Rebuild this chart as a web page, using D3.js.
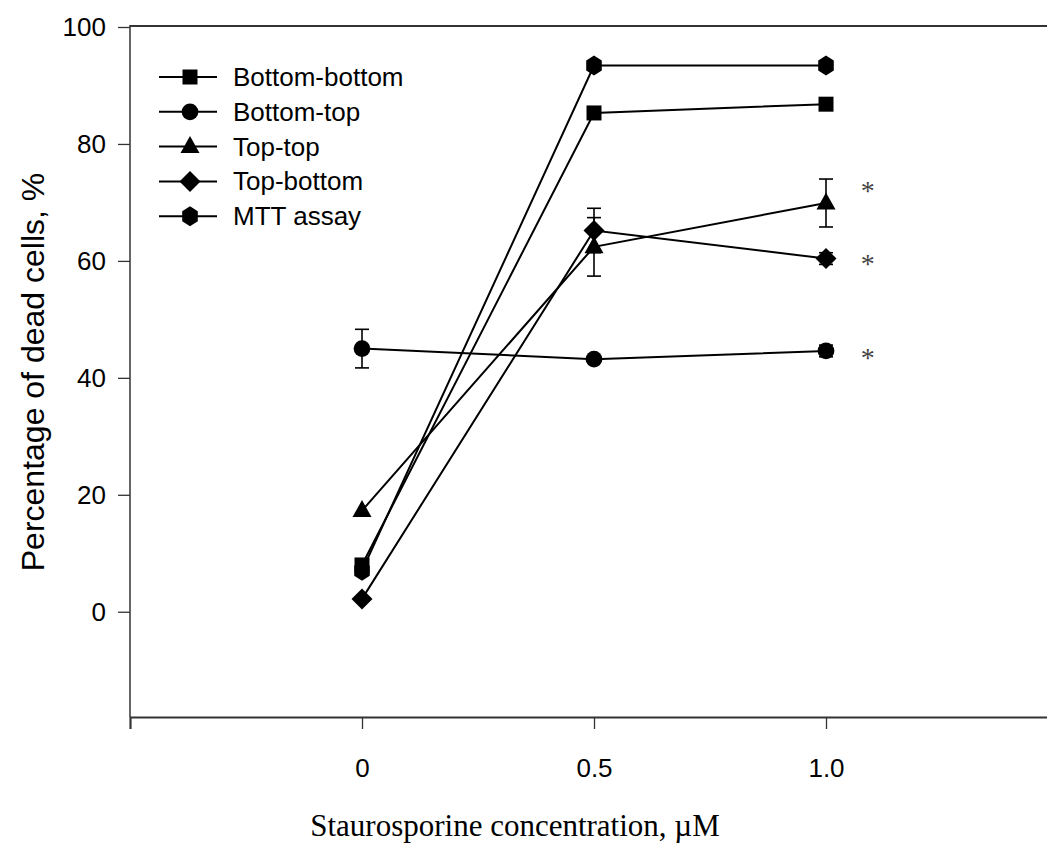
<!DOCTYPE html>
<html>
<head>
<meta charset="utf-8">
<script src="https://cdn.jsdelivr.net/npm/d3@7"></script>
<style>
  html, body { margin: 0; padding: 0; background: #fff; }
  svg { display: block; }
</style>
</head>
<body>
<svg id="chart" width="1047" height="857"></svg>
<script>
// Staurosporine concentrations (µM)
const concentrations = [0, 0.5, 1.0];
const xTickValues = [-0.5, 0, 0.5, 1.0, 1.5];
const xTickLabels = ["", "0", "0.5", "1.0", ""];
const yTickValues = [0, 20, 40, 60, 80, 100];

// Percentage of dead cells per series, with error (± half-range)
const bottomBottom = [8.0, 85.3, 86.8];
const bottomBottomErr = [0, 0, 0];
const bottomTop = [45.0, 43.2, 44.6];
const bottomTopErr = [3.3, 0, 1.0];
const topTop = [17.3, 62.4, 69.9];
const topTopErr = [0, 5.0, 4.1];
const topBottom = [2.2, 65.2, 60.4];
const topBottomErr = [0, 3.8, 1.0];
const mttAssay = [7.0, 93.4, 93.4];
const mttAssayErr = [0, 0, 0];

const seriesNames = ["Bottom-bottom", "Bottom-top", "Top-top", "Top-bottom", "MTT assay"];
const seriesSymbols = ["square", "circle", "triangle", "diamond", "hexagon"];

// Significance marks placed beside the 1.0 µM points
const starValues = [73.0, 60.5, 44.5];

const series = [
  { name: seriesNames[0], symbol: seriesSymbols[0], values: bottomBottom, err: bottomBottomErr },
  { name: seriesNames[1], symbol: seriesSymbols[1], values: bottomTop, err: bottomTopErr },
  { name: seriesNames[2], symbol: seriesSymbols[2], values: topTop, err: topTopErr },
  { name: seriesNames[3], symbol: seriesSymbols[3], values: topBottom, err: topBottomErr },
  { name: seriesNames[4], symbol: seriesSymbols[4], values: mttAssay, err: mttAssayErr }
];

const svg = d3.select("#chart");

const x = d3.scaleLinear().domain([-0.5, 1.5]).range([130, 1058]);
const y = d3.scaleLinear().domain([-18, 100]).range([717, 27]);

const sans = "'Liberation Sans', Arial, sans-serif";
const serif = "'Liberation Serif', 'Times New Roman', serif";

// Marker path generators
function markerPath(type) {
  switch (type) {
    case "square": return "M-7.5,-7.5H7.5V7.5H-7.5Z";
    case "circle": return d3.symbol(d3.symbolCircle, 220)();
    case "triangle": return "M0,-10.5L9.5,6.5H-9.5Z";
    case "diamond": return "M0,-10.5L10.5,0L0,10.5L-10.5,0Z";
    case "hexagon": {
      const r = 10;
      const pts = d3.range(6).map(i => {
        const a = Math.PI / 3 * i - Math.PI / 2;
        return [r * Math.cos(a) * 0.9, r * Math.sin(a)];
      });
      return "M" + pts.map(p => p.join(",")).join("L") + "Z";
    }
  }
}

// Frame: top line and axes
svg.append("line")
  .attr("x1", x(-0.5)).attr("x2", x(1.5))
  .attr("y1", y(100) - 1).attr("y2", y(100) - 1)
  .attr("stroke", "#333").attr("stroke-width", 2);

const xAxis = d3.axisBottom(x)
  .tickValues(xTickValues)
  .tickFormat((d, i) => xTickLabels[i])
  .tickSizeOuter(0)
  .tickSize(12)
  .tickPadding(30);

const gx = svg.append("g")
  .attr("transform", `translate(0,${y(-18)})`)
  .call(xAxis);
gx.select(".domain").attr("stroke", "#333").attr("stroke-width", 2);
gx.selectAll(".tick line").attr("stroke", "#333").attr("stroke-width", 1.3);
gx.selectAll(".tick text")
  .attr("font-family", sans).attr("font-size", 26).attr("fill", "#000");

const yAxis = d3.axisLeft(y)
  .tickValues(yTickValues)
  .tickSizeOuter(0)
  .tickSize(12)
  .tickPadding(12);

const gy = svg.append("g")
  .attr("transform", `translate(${x(-0.5)},0)`)
  .call(yAxis);
gy.select(".domain")
  .attr("d", `M0,${y(100) - 2}V${y(-18)}`)
  .attr("stroke", "#333").attr("stroke-width", 1.5);
gy.selectAll(".tick line").attr("stroke", "#333").attr("stroke-width", 1.3);
gy.selectAll(".tick text")
  .attr("font-family", sans).attr("font-size", 26).attr("fill", "#000");

// Axis titles
svg.append("text")
  .attr("transform", `translate(44,${y(41)}) rotate(-90)`)
  .attr("text-anchor", "middle")
  .attr("font-family", sans).attr("font-size", 32)
  .text("Percentage of dead cells, %");

svg.append("text")
  .attr("x", 515).attr("y", 836)
  .attr("text-anchor", "middle")
  .attr("font-family", serif).attr("font-size", 31)
  .text("Staurosporine concentration, \u00B5M");

// Connecting lines
const line = d3.line()
  .x((d, i) => x(concentrations[i]))
  .y(d => y(d));

const plot = svg.append("g");

series.forEach(s => {
  plot.append("path")
    .datum(s.values)
    .attr("d", line)
    .attr("fill", "none")
    .attr("stroke", "#000")
    .attr("stroke-width", 2);
});

// Error bars
series.forEach(s => {
  s.values.forEach((v, i) => {
    const e = s.err[i];
    if (!e) return;
    const cx = x(concentrations[i]);
    const g = plot.append("g").attr("stroke", "#000").attr("stroke-width", 1.6);
    g.append("line").attr("x1", cx).attr("x2", cx).attr("y1", y(v + e)).attr("y2", y(v - e));
    g.append("line").attr("x1", cx - 7).attr("x2", cx + 7).attr("y1", y(v + e)).attr("y2", y(v + e));
    g.append("line").attr("x1", cx - 7).attr("x2", cx + 7).attr("y1", y(v - e)).attr("y2", y(v - e));
  });
});

// Markers (MTT first so the other symbols sit on top)
[4, 3, 2, 1, 0].forEach(k => {
  const s = series[k];
  plot.selectAll(null)
    .data(s.values)
    .enter().append("path")
    .attr("d", markerPath(s.symbol))
    .attr("transform", (d, i) => `translate(${x(concentrations[i])},${y(d)})`)
    .attr("fill", "#000");
});

// Significance asterisks
svg.selectAll(".star")
  .data(starValues)
  .enter().append("text")
  .attr("class", "star")
  .attr("x", x(1.09)).attr("y", d => y(d) + 15)
  .attr("text-anchor", "middle")
  .attr("font-family", serif).attr("font-size", 28)
  .attr("fill", "#444")
  .text("*");

// Legend
const legend = svg.append("g").attr("transform", "translate(159,77)");
series.forEach((s, i) => {
  const row = legend.append("g").attr("transform", `translate(0,${i * 34.8})`);
  row.append("line").attr("x1", 0).attr("x2", 58).attr("y1", 0).attr("y2", 0)
    .attr("stroke", "#000").attr("stroke-width", 2);
  row.append("path").attr("d", markerPath(s.symbol))
    .attr("transform", "translate(31,0)").attr("fill", "#000");
  row.append("text").attr("x", 74).attr("y", 9)
    .attr("font-family", sans).attr("font-size", 26)
    .text(s.name);
});
</script>
</body>
</html>
